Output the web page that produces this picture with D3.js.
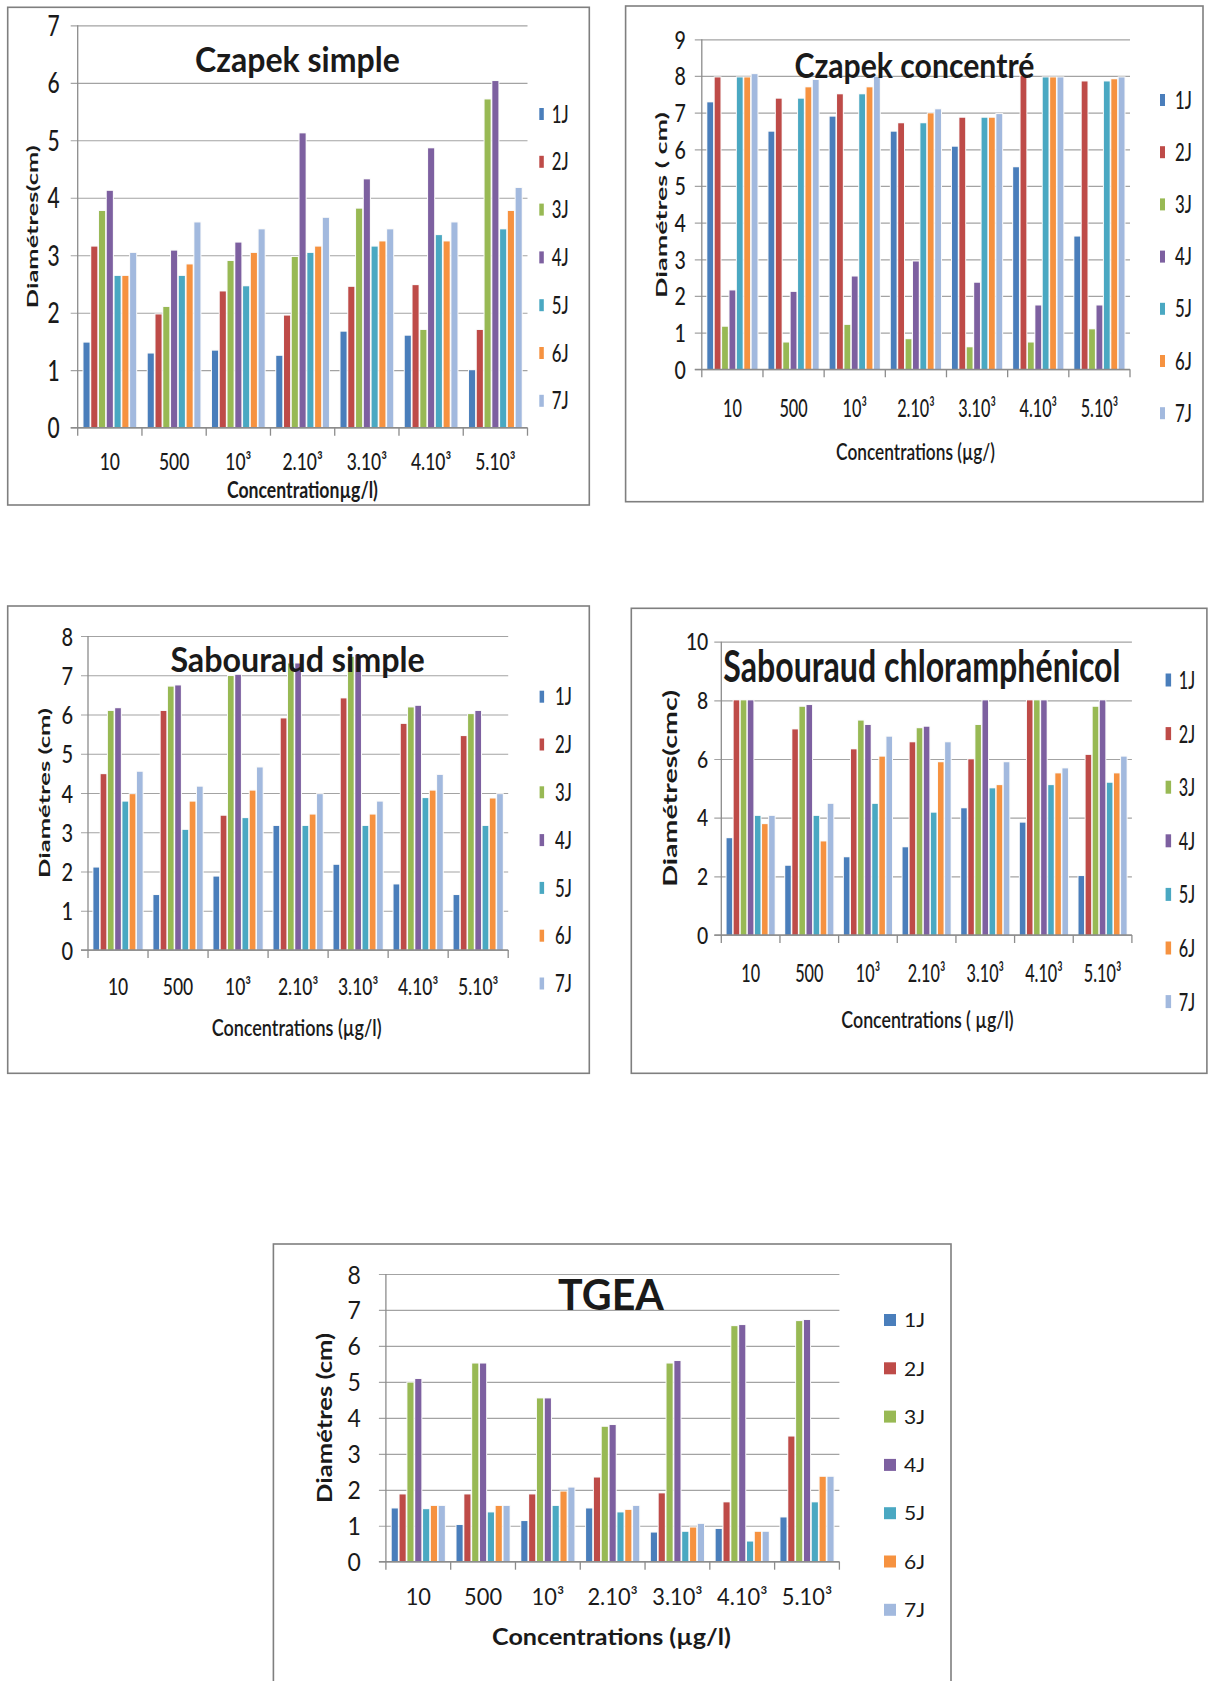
<!DOCTYPE html>
<html>
<head>
<meta charset="utf-8">
<script src="https://cdn.jsdelivr.net/npm/d3@7"></script>
<style>
  body { margin: 0; background: #fff; }
  text { font-family: Lato, "Open Sans", sans-serif; fill: #1a1a1a; }
</style>
</head>
<body>
<svg id="fig" width="1208" height="1681"></svg>
<script>
// shared categories / series
const concentrations = ["10", "500", "10³", "2.10³", "3.10³", "4.10³", "5.10³"];
const days = ["1J", "2J", "3J", "4J", "5J", "6J", "7J"];

// one row per concentration, columns 1J..7J (diameters, cm)
const czapekSimple = [
  [1.48, 3.15, 3.77, 4.12, 2.64, 2.64, 3.04],
  [1.29, 1.97, 2.10, 3.08, 2.64, 2.84, 3.57],
  [1.34, 2.37, 2.90, 3.22, 2.46, 3.04, 3.45],
  [1.25, 1.95, 2.97, 5.12, 3.04, 3.15, 3.65],
  [1.67, 2.45, 3.81, 4.32, 3.15, 3.24, 3.45],
  [1.60, 2.48, 1.70, 4.86, 3.35, 3.24, 3.57],
  [1.00, 1.70, 5.71, 6.03, 3.45, 3.77, 4.17]
];
const czapekConcentre = [
  [7.28, 7.96, 1.16, 2.15, 7.96, 7.96, 8.05],
  [6.48, 7.38, 0.73, 2.11, 7.38, 7.69, 7.89],
  [6.89, 7.50, 1.21, 2.53, 7.50, 7.69, 7.98],
  [6.48, 6.71, 0.82, 2.94, 6.71, 6.98, 7.09],
  [6.07, 6.86, 0.60, 2.36, 6.86, 6.86, 6.96],
  [5.51, 8.00, 0.73, 1.74, 7.96, 7.96, 7.96],
  [3.62, 7.85, 1.09, 1.74, 7.85, 7.91, 7.96]
];
const sabouraudSimple = [
  [2.10, 4.48, 6.09, 6.16, 3.78, 3.97, 4.54],
  [1.40, 6.09, 6.71, 6.74, 3.06, 3.78, 4.16],
  [1.87, 3.42, 6.98, 7.01, 3.36, 4.06, 4.65],
  [3.16, 5.90, 7.30, 7.30, 3.16, 3.45, 3.97],
  [2.17, 6.41, 7.47, 7.52, 3.16, 3.45, 3.78],
  [1.67, 5.76, 6.18, 6.22, 3.87, 4.06, 4.46],
  [1.40, 5.45, 6.01, 6.09, 3.16, 3.86, 3.97]
];
const sabouraudChloramphenicol = [
  [3.30, 8.00, 8.00, 8.00, 4.06, 3.78, 4.06],
  [2.36, 7.01, 7.78, 7.84, 4.06, 3.19, 4.47],
  [2.65, 6.33, 7.31, 7.16, 4.47, 6.08, 6.76],
  [2.99, 6.57, 7.05, 7.10, 4.17, 5.89, 6.57],
  [4.32, 5.99, 7.16, 8.00, 5.00, 5.11, 5.89],
  [3.83, 8.00, 8.00, 8.00, 5.11, 5.51, 5.68],
  [2.01, 6.14, 7.78, 8.00, 5.19, 5.51, 6.08]
];
const tgea = [
  [1.48, 1.87, 4.98, 5.08, 1.46, 1.55, 1.55],
  [1.02, 1.87, 5.51, 5.51, 1.37, 1.55, 1.55],
  [1.13, 1.87, 4.54, 4.54, 1.55, 1.95, 2.06],
  [1.48, 2.34, 3.75, 3.80, 1.37, 1.44, 1.55],
  [0.81, 1.90, 5.51, 5.58, 0.83, 0.95, 1.05],
  [0.91, 1.65, 6.55, 6.58, 0.56, 0.83, 0.83],
  [1.23, 3.48, 6.69, 6.72, 1.65, 2.36, 2.36]
];

const color = d3.scaleOrdinal()
  .domain(days)
  .range(["#4a7ebb", "#be4b48", "#98b954", "#7d60a0", "#4aa8c2", "#f69240", "#a2b9de"]);

const svg = d3.select("#fig");
svg.append("rect").attr("width", 1208).attr("height", 1681).attr("fill", "#fff");

// text helper: squeezed horizontally by sx, or scaled so it spans exactly `len`
function label(g, x, y, s, o) {
  const t = g.append("text")
    .attr("text-anchor", o.anchor || "middle")
    .attr("font-size", o.fs)
    .attr("font-weight", o.weight || "normal")
    .text(s);
  let sx = o.sx || 1;
  if (o.len) sx = o.len / t.node().getComputedTextLength();
  t.attr("transform", `translate(${x},${y})${o.rot ? " rotate(-90)" : ""} scale(${sx},1)`);
  return t;
}

function drawChart(L, values) {
  const g = svg.append("g");

  g.append("rect")
    .attr("x", L.fx).attr("y", L.fy).attr("width", L.fw).attr("height", L.fh)
    .attr("fill", "none").attr("stroke", "#7f7f7f").attr("stroke-width", 1.6);

  const x = d3.scaleBand().domain(concentrations).range([L.left, L.right]);
  const bw = x.bandwidth();
  const inner = d3.scaleBand().domain(days).range([bw * 0.09, bw * 0.91]).paddingInner(0.22);
  const y = d3.scaleLinear().domain([0, L.yMax]).range([L.bottom, L.top]);

  // y axis + gridlines
  const ya = g.append("g")
    .attr("transform", `translate(${L.left},0)`)
    .call(d3.axisLeft(y)
      .tickValues(d3.range(0, L.yMax + 0.001, L.step))
      .tickFormat(d3.format("d"))
      .tickSize(-(L.right - L.left))
      .tickSizeOuter(0)
      .tickPadding(0));
  ya.select(".domain").remove();
  ya.selectAll(".tick line").attr("x1", -7).attr("stroke", "#a3a3a3").attr("stroke-width", 1.2);
  ya.selectAll(".tick text")
    .attr("x", null).attr("dy", null)
    .attr("text-anchor", "end")
    .attr("fill", "#1a1a1a")
    .attr("font-size", L.tickFs)
    .attr("font-weight", L.textWeight)
    .attr("font-family", null)
    .attr("transform", `translate(${-L.tickGap},${L.tickFs * 0.36}) scale(${L.tickSx},1)`);

  g.append("line")
    .attr("x1", L.left).attr("x2", L.left).attr("y1", L.top).attr("y2", L.bottom)
    .attr("stroke", "#8c8c8c").attr("stroke-width", 1.3);

  // bars with a thin white halo, as in the original
  const grp = g.selectAll("g.grp").data(values).join("g")
    .attr("class", "grp")
    .attr("transform", (d, i) => `translate(${x(concentrations[i])},0)`);
  grp.selectAll("rect.halo").data(d => d).join("rect")
    .attr("class", "halo")
    .attr("x", (v, j) => inner(days[j]) - 1)
    .attr("y", v => y(v) - 1)
    .attr("width", inner.bandwidth() + 2)
    .attr("height", v => L.bottom - y(v) + 1)
    .attr("fill", "#fafafa");
  grp.selectAll("rect.bar").data(d => d).join("rect")
    .attr("class", "bar")
    .attr("x", (v, j) => inner(days[j]))
    .attr("y", v => y(v))
    .attr("width", inner.bandwidth())
    .attr("height", v => L.bottom - y(v))
    .attr("fill", (v, j) => color(days[j]));

  // x axis
  g.append("line")
    .attr("x1", L.left - 7).attr("x2", L.right).attr("y1", L.bottom).attr("y2", L.bottom)
    .attr("stroke", "#8c8c8c").attr("stroke-width", 1.3);
  g.selectAll("line.xt").data(concentrations.map(c => x(c)).concat([L.right])).join("line")
    .attr("class", "xt")
    .attr("x1", d => d).attr("x2", d => d)
    .attr("y1", L.bottom).attr("y2", L.bottom + 8)
    .attr("stroke", "#8c8c8c").attr("stroke-width", 1.3);
  const xa = g.append("g")
    .attr("transform", `translate(0,${L.bottom})`)
    .call(d3.axisBottom(x).tickSize(0).tickPadding(0));
  xa.select(".domain").remove();
  xa.selectAll(".tick text")
    .attr("y", null).attr("dy", null)
    .attr("fill", "#1a1a1a")
    .attr("font-size", L.catFs)
    .attr("font-weight", L.textWeight)
    .attr("font-family", null)
    .attr("transform", `translate(0,${L.catY - L.bottom}) scale(${L.catSx},1)`);

  // titles
  label(g, L.titleX, L.titleY, L.title, { fs: L.titleFs, weight: "bold", len: L.titleLen });
  label(g, L.yTitleX, L.yTitleY, L.yTitle, { fs: L.yTitleFs, weight: "bold", rot: true, len: L.yTitleLen });
  label(g, L.xTitleX, L.xTitleY, L.xTitle, { fs: L.xTitleFs, weight: L.xTitleWeight, len: L.xTitleLen });

  // legend
  days.forEach((dname, j) => {
    const cy = L.legY + j * L.legStep;
    g.append("rect")
      .attr("x", L.legX).attr("y", cy - L.legH / 2)
      .attr("width", L.legW).attr("height", L.legH)
      .attr("fill", color(dname));
    label(g, L.legTx, cy + L.legFs * 0.36, dname, { fs: L.legFs, anchor: "start", sx: L.legSx, weight: L.textWeight });
  });
}

drawChart({
  fx: 7.7, fy: 7.3, fw: 581.6, fh: 497.7,
  left: 77.7, right: 527.5, top: 25.3, bottom: 427.7, yMax: 7, step: 1,
  textWeight: 500,
  tickFs: 28, tickSx: 0.75, tickGap: 18,
  catFs: 23, catSx: 0.76, catY: 470,
  title: "Czapek simple", titleX: 297.4, titleY: 71.7, titleFs: 35, titleLen: 204.7,
  yTitle: "Diamétres(cm)", yTitleX: 38.3, yTitleY: 226.7, yTitleFs: 16, yTitleLen: 163,
  xTitle: "Concentrationµg/l)", xTitleX: 302.4, xTitleY: 498, xTitleFs: 22, xTitleWeight: "bold", xTitleLen: 151,
  legX: 539.3, legW: 4.5, legH: 12, legTx: 551.7, legY: 114, legStep: 47.8, legFs: 24, legSx: 0.7
}, czapekSimple);

drawChart({
  fx: 625.6, fy: 6, fw: 577.4, fh: 495.7,
  left: 701.8, right: 1130, top: 39.3, bottom: 369.3, yMax: 9, step: 1,
  textWeight: 500,
  tickFs: 24.5, tickSx: 0.8, tickGap: 16,
  catFs: 25, catSx: 0.65, catY: 417,
  title: "Czapek concentré", titleX: 914.4, titleY: 78.3, titleFs: 35, titleLen: 240,
  yTitle: "Diamétres ( cm)", yTitleX: 666.8, yTitleY: 205, yTitleFs: 16, yTitleLen: 186,
  xTitle: "Concentrations (µg/)", xTitleX: 915.5, xTitleY: 460, xTitleFs: 22, xTitleWeight: 600, xTitleLen: 159,
  legX: 1160, legW: 5, legH: 12, legTx: 1175, legY: 100, legStep: 52.2, legFs: 24, legSx: 0.7
}, czapekConcentre);

drawChart({
  fx: 7.7, fy: 606, fw: 581.6, fh: 467.3,
  left: 88, right: 508.2, top: 636, bottom: 950, yMax: 8, step: 1,
  textWeight: 500,
  tickFs: 25, tickSx: 0.8, tickGap: 15,
  catFs: 23, catSx: 0.76, catY: 995,
  title: "Sabouraud simple", titleX: 297.6, titleY: 671.7, titleFs: 35, titleLen: 254.5,
  yTitle: "Diamétres (cm)", yTitleX: 49.8, yTitleY: 793, yTitleFs: 16, yTitleLen: 170,
  xTitle: "Concentrations (µg/l)", xTitleX: 296.6, xTitleY: 1036, xTitleFs: 22, xTitleWeight: 600, xTitleLen: 170,
  legX: 539.6, legW: 4.5, legH: 12, legTx: 555, legY: 696.7, legStep: 47.8, legFs: 24, legSx: 0.7
}, sabouraudSimple);

drawChart({
  fx: 631.3, fy: 608.3, fw: 575.6, fh: 465,
  left: 721.3, right: 1131.9, top: 641.7, bottom: 935, yMax: 10, step: 2,
  textWeight: 500,
  tickFs: 23, tickSx: 0.84, tickGap: 13,
  catFs: 25, catSx: 0.65, catY: 982,
  title: "Sabouraud chloramphénicol", titleX: 921.9, titleY: 681.7, titleFs: 44, titleLen: 397.5,
  yTitle: "Diamétres(cmc)", yTitleX: 677, yTitleY: 788.3, yTitleFs: 18, yTitleLen: 197,
  xTitle: "Concentrations ( µg/l)", xTitleX: 927.5, xTitleY: 1028, xTitleFs: 23, xTitleWeight: 600, xTitleLen: 172.5,
  legX: 1165.6, legW: 5.5, legH: 13, legTx: 1178.8, legY: 680, legStep: 53.6, legFs: 25, legSx: 0.65
}, sabouraudChloramphenicol);

drawChart({
  fx: 273.4, fy: 1244, fw: 677.6, fh: 500,
  left: 385.9, right: 839.4, top: 1274, bottom: 1561.7, yMax: 8, step: 1,
  textWeight: "normal",
  tickFs: 25, tickSx: 0.92, tickGap: 25,
  catFs: 23, catSx: 0.95, catY: 1605,
  title: "TGEA", titleX: 611, titleY: 1310, titleFs: 42, titleLen: 105.8,
  yTitle: "Diamétres (cm)", yTitleX: 331.9, yTitleY: 1418, yTitleFs: 20, yTitleLen: 170,
  xTitle: "Concentrations (µg/l)", xTitleX: 611.5, xTitleY: 1645, xTitleFs: 22, xTitleWeight: "bold", xTitleLen: 239,
  legX: 884, legW: 12, legH: 12, legTx: 904, legY: 1320, legStep: 48.3, legFs: 20, legSx: 1.05
}, tgea);
</script>
</body>
</html>
